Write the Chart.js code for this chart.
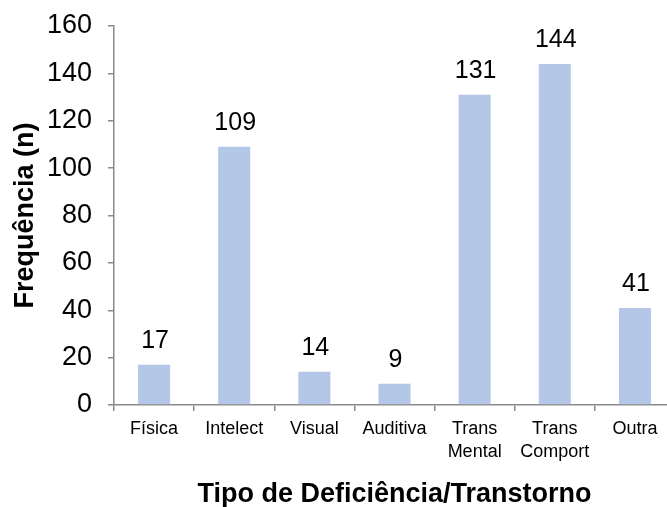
<!DOCTYPE html>
<html>
<head>
<meta charset="utf-8">
<script src="https://cdn.jsdelivr.net/npm/chart.js@4/dist/chart.umd.min.js"></script>
<style>
  html, body { margin: 0; padding: 0; background: #fff; overflow: hidden; }
  #wrap { width: 667px; height: 507px; overflow: hidden; position: relative; }
  #box { width: 680px; height: 507px; }
</style>
</head>
<body>
<div id="wrap"><div id="box"><canvas id="chart"></canvas></div></div>
<script>
// values
var categories = ['Física', 'Intelect', 'Visual', 'Auditiva', ['Trans', 'Mental'], ['Trans', 'Comport'], 'Outra'];
var frequencies = [17, 109, 14, 9, 131, 144, 41];
var yTicks = [0, 20, 40, 60, 80, 100, 120, 140, 160];

var axisGray = '#898989';
var fontFamily = '"Liberation Sans", Arial, sans-serif';

// number above each bar
var barLabels = {
	id: 'barLabels',
	afterDatasetsDraw: function(chart) {
		var ctx = chart.ctx;
		var meta = chart.getDatasetMeta(0);
		ctx.save();
		ctx.font = '25px ' + fontFamily;
		ctx.fillStyle = '#000';
		ctx.textAlign = 'center';
		ctx.textBaseline = 'alphabetic';
		meta.data.forEach(function(bar, i) {
			ctx.fillText(String(frequencies[i]), bar.x + 1, bar.y - 17);
		});
		ctx.restore();
	}
};

new Chart(document.getElementById('chart'), {
	type: 'bar',
	data: {
		labels: categories,
		datasets: [{
			data: frequencies,
			backgroundColor: '#b4c7e7',
			borderWidth: 0,
			barPercentage: 0.4,
			categoryPercentage: 1.0
		}]
	},
	options: {
		responsive: true,
		maintainAspectRatio: false,
		animation: false,
		layout: { padding: { top: 26, right: 5, bottom: 0, left: 0 } },
		plugins: {
			legend: { display: false },
			tooltip: { enabled: false }
		},
		scales: {
			x: {
				grid: {
					display: true,
					drawOnChartArea: false,
					drawTicks: true,
					tickLength: 6,
					color: axisGray,
					lineWidth: 1.5,
					offset: true
				},
				border: { display: true, color: axisGray, width: 1.5 },
				ticks: {
					color: '#000',
					padding: 6,
					maxRotation: 0,
					autoSkip: false,
					font: { family: fontFamily, size: 18, lineHeight: 1.3 }
				},
				title: {
					display: true,
					text: 'Tipo de Deficiência/Transtorno',
					color: '#000',
					font: { family: fontFamily, size: 27, weight: 'bold', lineHeight: 0.9 },
					padding: { top: 0, bottom: 0 }
				},
				afterFit: function(scale) { scale.height = 102; }
			},
			y: {
				min: 0,
				max: 160,
				afterBuildTicks: function(scale) {
					scale.ticks = yTicks.map(function(v) { return { value: v }; });
				},
				grid: {
					display: true,
					drawOnChartArea: false,
					drawTicks: true,
					tickLength: 6,
					color: axisGray,
					lineWidth: 1.5
				},
				border: { display: true, color: axisGray, width: 1.5 },
				ticks: {
					color: '#000',
					padding: 16,
					font: { family: fontFamily, size: 27 }
				},
				title: {
					display: true,
					text: 'Frequência (n)',
					color: '#000',
					font: { family: fontFamily, size: 27, weight: 'bold' },
					padding: { top: 9, bottom: 0 }
				},
				afterFit: function(scale) {
					scale.width = 114;
					scale.paddingTop = 0;
					scale.paddingBottom = 0;
				}
			}
		}
	},
	plugins: [barLabels]
});
</script>
</body>
</html>
